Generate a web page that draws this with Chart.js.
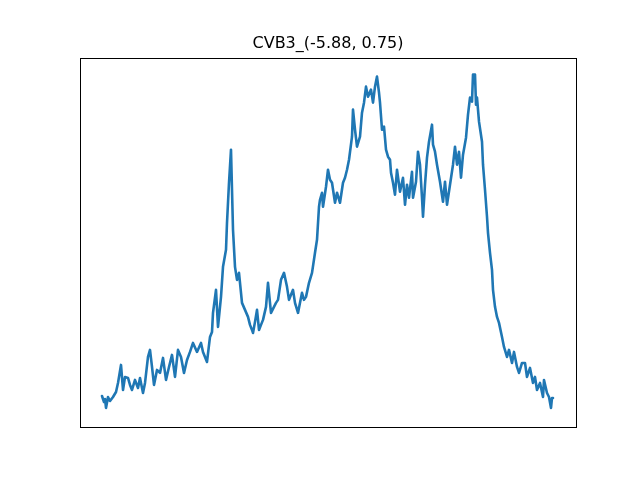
<!DOCTYPE html>
<html>
<head>
<meta charset="utf-8">
<script src="https://cdn.jsdelivr.net/npm/chart.js@4.4.0/dist/chart.umd.min.js"></script>
<style>
html,body{margin:0;padding:0;background:#fff;}
#wrap{width:640px;height:480px;position:relative;}
</style>
</head>
<body>
<div id="wrap"><canvas id="c" width="640" height="480"></canvas></div>
<script>
const chartTitle = "CVB3_(-5.88, 0.75)";
const xs = [0,2,3,4,6,8,11,14,16,19,21,23,26,28,30,33,36,38,41,43,46,48,50,52,55,58,61,64,67,70,73,76,79,82,85,88,91,95,99,101,105,108,110,
111,114,116,119,121,124,125,127,129,130,131,133,135,137,140,143,146,148,150,151,153,155,157,159,161,164,166,169,172,174,176,179,182,185,187,189,191,193,196,198,200,202,204,207,210,213,215,217,
218,220,221,224,226,228,230,233,235,238,241,243,245,247,250,251,253,255,258,260,262,264,266,269,271,273,275,277,278,280,282,284,286,288,289,291,293,295,298,301,303,305,307,310,311,314,316,318,320,321,323,325,327,330,331,333,335,338,341,343,345,348,351,353,355,357,359,361,364,366,368,370,371,373,374,375,377,380,381,383,385,386,388,390,391,393,395,397,400,402,405,407,410,412,415,417,420,423,425,428,431,433,435,438,441,442,445,447,449,450,451];
const ys = [31,25,28,19,30,26,30,35,44,62,37,50,49,42,37,47,39,49,34,44,70,77,60,42,57,54,69,47,60,72,50,77,70,54,67,75,84,75,84,75,65,90,95,
114,137,100,130,160,177,204,244,277,237,197,160,147,154,124,117,110,102,97,94,105,117,97,102,107,120,144,114,120,124,127,147,154,140,127,132,137,124,114,124,134,127,130,144,154,174,187,220,
227,234,220,240,257,247,244,224,234,224,244,249,257,267,290,317,297,280,290,314,324,340,330,337,324,340,350,334,324,297,300,277,270,267,254,244,232,257,235,249,222,242,229,255,229,245,275,262,229,210,242,269,285,302,282,275,262,245,225,245,222,242,262,280,262,275,249,272,289,312,329,325,352,352,322,329,305,285,262,237,210,194,174,157,137,120,110,104,90,80,70,77,64,75,60,54,64,64,50,59,44,50,37,44,30,47,34,30,19,29,29];

const points = xs.map((x, i) => ({x: x, y: ys[i]}));

const framePlugin = {
  id: 'frame',
  afterDraw(chart) {
    const {ctx, chartArea: a} = chart;
    ctx.save();
    ctx.strokeStyle = '#000';
    ctx.lineWidth = 1;
    ctx.strokeRect(Math.round(a.left) + 0.5, Math.round(a.top) + 0.5, Math.round(a.right - a.left), Math.round(a.bottom - a.top));
    ctx.restore();
  }
};

new Chart(document.getElementById('c'), {
  type: 'line',
  data: {
    datasets: [{
      data: points,
      borderColor: '#1f77b4',
      borderWidth: 2.6,
      pointRadius: 0,
      tension: 0,
      fill: false,
      borderJoinStyle: 'round',
      borderCapStyle: 'round'
    }]
  },
  options: {
    responsive: false,
    animation: false,
    devicePixelRatio: 1,
    layout: { padding: { left: 80, right: 64, top: 0, bottom: 53 } },
    plugins: {
      legend: { display: false },
      tooltip: { enabled: false },
      title: {
        display: true,
        text: chartTitle,
        color: '#000',
        font: { family: 'DejaVu Sans', size: 16, weight: 'normal', lineHeight: 1.2 },
        padding: { top: 34, bottom: 4.4 }
      }
    },
    scales: {
      x: { type: 'linear', min: -22, max: 474, display: false },
      y: { type: 'linear', min: 0, max: 369, display: false }
    }
  },
  plugins: [framePlugin]
});
</script>
</body>
</html>
